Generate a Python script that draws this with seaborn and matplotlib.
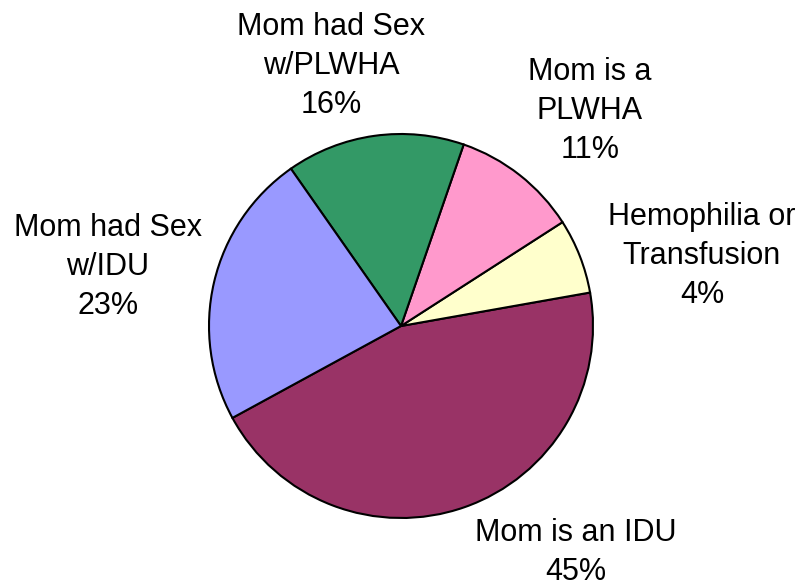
import matplotlib
matplotlib.use("Agg")
import matplotlib.pyplot as plt
import seaborn as sns

# slice data, in drawing order (counter-clockwise from the start angle)
categories = ["Mom is an IDU", "Hemophilia or\nTransfusion", "Mom is a\nPLWHA",
              "Mom had Sex\nw/PLWHA", "Mom had Sex\nw/IDU"]
shares = [44.8, 6.3, 10.6, 15.0, 23.2]
pct_labels = ["45%", "4%", "11%", "16%", "23%"]
colors = ["#993366", "#FFFFCC", "#FF99CC", "#339966", "#9999FF"]

sns.set_style("white")
plt.rcParams['font.family'] = ['Liberation Sans', 'DejaVu Sans']

W, H = 804, 588
fig = plt.figure(figsize=(W / 100, H / 100), dpi=100)
ax = fig.add_axes([0, 0, 1, 1])

# pie placed in pixel space
ax.pie(shares, colors=colors, startangle=208.6, counterclock=True,
       center=(401, H - 326), radius=192,
       wedgeprops=dict(edgecolor="black", linewidth=1.5))

# label anchor: centre x and last-line baseline (pixels from top-left)
label_pos = [(576, 580), (702, 303), (590, 158), (331, 113), (108, 314)]
for cat, pct, (x, y) in zip(categories, pct_labels, label_pos):
    ax.text(x, H - y, cat + "\n" + pct, ha="center", va="baseline",
            fontsize=22, linespacing=1.39, color="black")

ax.set_xlim(0, W)
ax.set_ylim(0, H)
ax.set_aspect("equal")
ax.axis("off")

fig.savefig("out.png", dpi=100, facecolor="white")
